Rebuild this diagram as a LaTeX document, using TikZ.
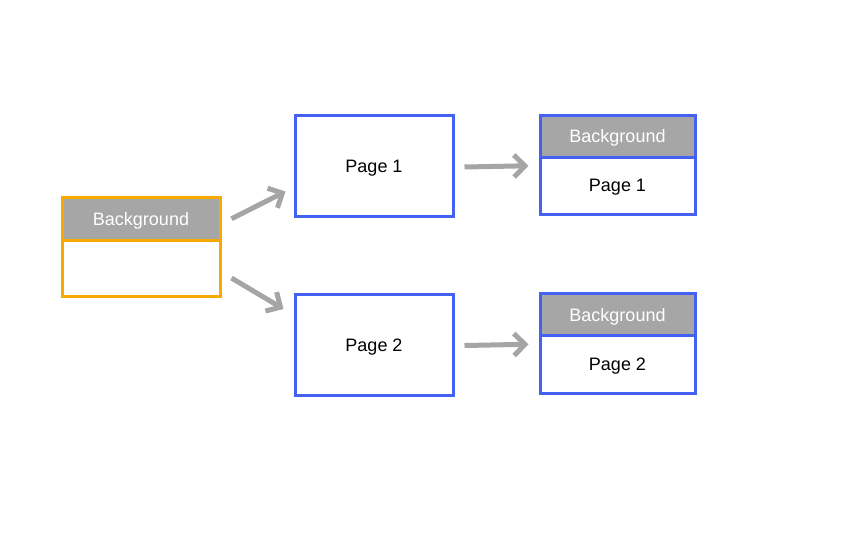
\documentclass[tikz,border=0pt]{standalone}
\usepackage{fontspec}
\setmainfont{Liberation Sans}
\usetikzlibrary{positioning, arrows.meta, calc}

\begin{document}
\begin{tikzpicture}[
    x=1pt, y=-1pt,
    % Estilos de nodos
    head/.style={
        rectangle, draw=#1, fill=headgray, text=white,
        minimum width=158pt, minimum height=43.5pt, text depth=0pt,
        font=\fontsize{18}{21}\selectfont, line width=3pt
    },
    body/.style={
        rectangle, draw=#1, fill=white, text=black,
        minimum width=158pt, minimum height=56pt, text depth=0pt,
        font=\fontsize{18}{21}\selectfont, line width=3pt
    },
    page/.style={
        rectangle, draw=pageblue, fill=white, text=black,
        minimum width=158pt, minimum height=101pt, text depth=0pt,
        font=\fontsize{18}{21}\selectfont, line width=3pt
    },
    arrow/.style={
        -{Straight Barb[length=11pt, width=22pt]}, line width=5pt, color=arrgray
    }
]

% ── Definir colores ──
\definecolor{headgray}{HTML}{A6A6A6}
\definecolor{arrgray}{HTML}{A5A5A5}
\definecolor{bgorange}{HTML}{F7AA00}
\definecolor{pageblue}{HTML}{4561F2}

\useasboundingbox (0,0) rectangle (851,542);

% ════════════════════════════════════════
% Fondo (izquierda)
% ════════════════════════════════════════
\node[head=bgorange] (bghead) at (141, 218.75) {Background};
\node[body=bgorange] (bgbody) at (141, 268.5)  {};

% ════════════════════════════════════════
% Paginas (centro)
% ════════════════════════════════════════
\node[page] (page1) at (374, 166) {Page 1};
\node[page] (page2) at (374, 345) {Page 2};

% ════════════════════════════════════════
% Resultado (derecha)
% ════════════════════════════════════════
\node[head=pageblue, minimum width=155pt, minimum height=42pt]   (res1head) at (617.5, 136)    {Background};
\node[body=pageblue, minimum width=155pt, minimum height=57.5pt] (res1body) at (617.5, 185.75) {Page 1};
\node[head=pageblue, minimum width=155pt, minimum height=42pt]   (res2head) at (617.5, 314.5)  {Background};
\node[body=pageblue, minimum width=155pt, minimum height=57.5pt] (res2body) at (617.5, 364.25) {Page 2};

% ════════════════════════════════════════
% FLECHAS
% ════════════════════════════════════════
\draw[arrow] ($(bghead.east)+(10,0)$)  -- ($(page1.south west)+(-8,-26.5)$);
\draw[arrow] ($(bgbody.east)+(10,9.5)$) -- ($(page2.north west)+(-10,16)$);
\draw[arrow] ($(page1.east)+(10,1)$) -- ($(res1body.west)+(-10,-20)$);
\draw[arrow] ($(page2.east)+(10,0.5)$) -- ($(res2body.west)+(-10,-20)$);

\end{tikzpicture}
\end{document}
